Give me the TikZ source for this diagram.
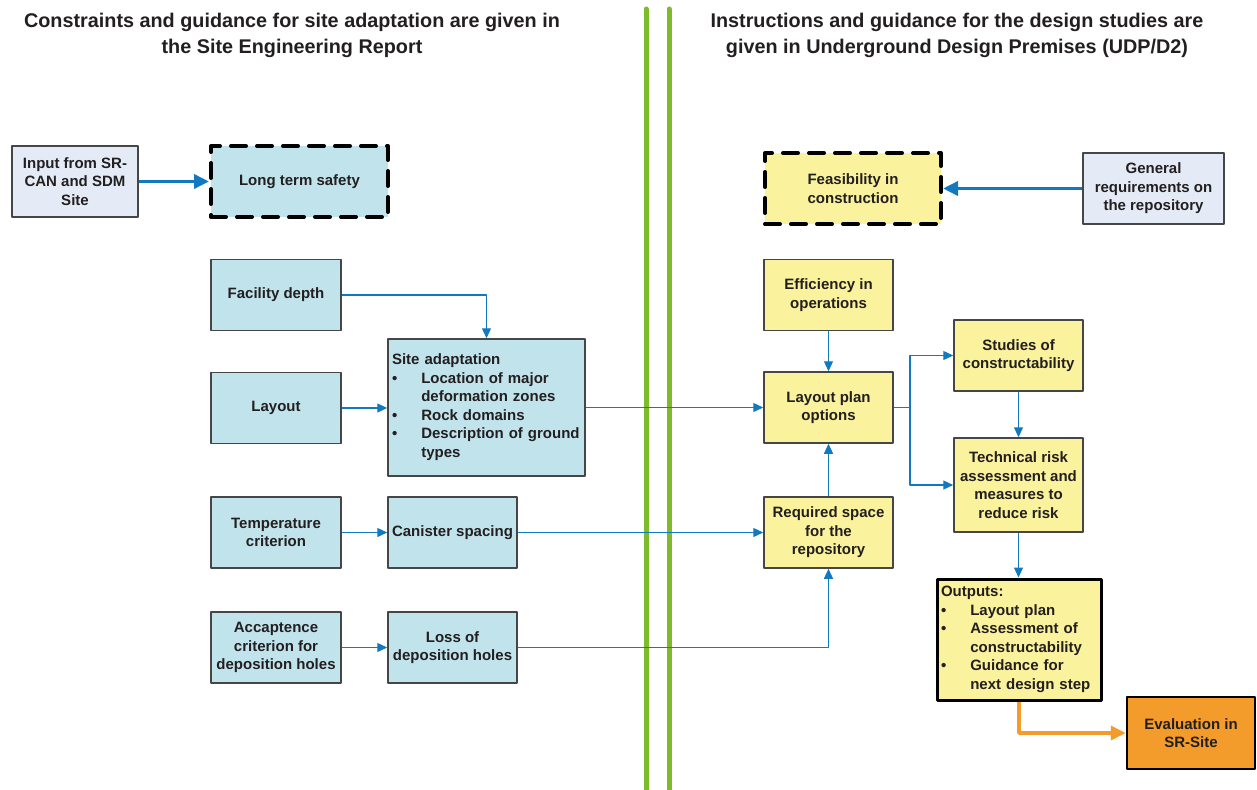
\documentclass[tikz,border=0pt]{standalone}
\usepackage{fontspec}
\setmainfont{Liberation Sans}
\usetikzlibrary{arrows.meta,positioning}

\definecolor{txtgray}{RGB}{35,31,32}
\definecolor{boxblue}{RGB}{193,228,236}
\definecolor{boxlav}{RGB}{228,235,247}
\definecolor{boxyellow}{RGB}{250,242,156}
\definecolor{boxorange}{RGB}{243,155,43}
\definecolor{arrowblue}{RGB}{18,121,193}
\definecolor{linegreen}{RGB}{125,187,42}
\definecolor{edgegray}{RGB}{70,70,70}

\begin{document}
\begin{tikzpicture}[x=1pt, y=-1pt, line join=round,
  every node/.style={text=txtgray, font=\fontsize{15}{18.5}\selectfont\bfseries, align=center, inner sep=4pt},
  plainbox/.style={draw=edgegray, line width=1.5pt, minimum width=130pt, minimum height=71pt},
  bluebox/.style={plainbox, fill=boxblue},
  yellowbox/.style={plainbox, fill=boxyellow},
  lavbox/.style={plainbox, fill=boxlav},
  dashbox/.style={draw=black, line width=4pt, dash pattern=on 15pt off 11pt, line cap=round, minimum height=71pt},
  thinarrow/.style={draw=arrowblue, line width=1.2pt, -{Triangle[length=10pt,width=9pt]}},
  thickarrow/.style={draw=arrowblue, line width=3.5pt, -{Triangle[length=15pt,width=14pt]}},
  orangearrow/.style={draw=boxorange, line width=3.5pt, -{Triangle[length=15pt,width=14pt]}},
  title/.style={font=\fontsize{19.8}{26}\selectfont\bfseries}]

\useasboundingbox (0,0) rectangle (1257,789);

% headings
\node[title] (lefttitle) at (292,35) {Constraints and guidance for site adaptation are given in\\the Site Engineering Report};
\node[title] (righttitle) at (957,35) {Instructions and guidance for the design studies are\\given in Underground Design Premises (UDP/D2)};

% dividing lines
\draw[linegreen, line width=5pt, line cap=round] (646,9) -- (646,792);
\draw[linegreen, line width=5pt, line cap=round] (669,9) -- (669,792);

% left side
\node[lavbox, minimum width=126pt] (input) at (75,181.5) {Input from SR-\\CAN and SDM\\Site};
\node[dashbox, fill=boxblue, minimum width=177pt] (lts) at (299.5,181.5) {Long term safety};

\node[bluebox] (depth) at (276,295) {Facility depth};
\node[bluebox] (layout) at (276,408) {Layout};
\node[bluebox, align=left, text width=189pt, minimum height=137pt] (siteadapt) at (486.5,407.5)
  {\begin{tabular}{@{}l@{\hspace{24pt}}l@{}}
    \multicolumn{2}{@{}l@{}}{Site adaptation}\\
    \textbullet & Location of major\\
     & deformation zones\\
    \textbullet & Rock domains\\
    \textbullet & Description of ground\\
     & types
  \end{tabular}};
\node[bluebox] (temp) at (276,532.5) {Temperature\\criterion};
\node[bluebox, minimum width=129pt] (canister) at (452.5,532.5) {Canister spacing};
\node[bluebox] (accept) at (276,647.5) {Accaptence\\criterion for\\deposition holes};
\node[bluebox, minimum width=129pt] (loss) at (452.5,647.5) {Loss of\\deposition holes};

% right side
\node[dashbox, fill=boxyellow, minimum width=176pt] (feas) at (853,188.5) {Feasibility in\\construction};
\node[lavbox, minimum width=141pt] (general) at (1153.5,188.5) {General\\requirements on\\the repository};

\node[yellowbox, minimum width=129pt] (efficiency) at (828.5,295) {Efficiency in\\operations};
\node[yellowbox, minimum width=129pt] (options) at (828.5,407.5) {Layout plan\\options};
\node[yellowbox, minimum width=129pt] (space) at (828.5,532.5) {Required space\\for the\\repository};
\node[yellowbox, minimum width=129pt] (studies) at (1018.5,355.5) {Studies of\\constructability};
\node[yellowbox, minimum width=129pt, minimum height=94pt] (risk) at (1018.5,485) {Technical risk\\assessment and\\measures to\\reduce risk};
\node[yellowbox, draw=black, line width=3pt, align=left, text width=156pt, minimum height=121pt] (outputs) at (1019,639.5)
  {\begin{tabular}{@{}l@{\hspace{24pt}}l@{}}
    \multicolumn{2}{@{}l@{}}{Outputs:}\\
    \textbullet & Layout plan\\
    \textbullet & Assessment of\\
     & constructability\\
    \textbullet & Guidance for\\
     & next design step
  \end{tabular}};
\node[plainbox, fill=boxorange, draw=black, line width=2.5pt, minimum width=128pt, minimum height=72pt] (eval) at (1191,733) {Evaluation in\\SR-Site};

% connectors
\draw[thickarrow] (input) -- (lts);
\draw[thickarrow] (general) -- (feas);

\draw[thinarrow] (depth.east) -| (siteadapt.north);
\draw[thinarrow] (layout.east) -- (layout.east -| siteadapt.west);
\draw[thinarrow] (siteadapt) -- (options);
\draw[thinarrow] (temp) -- (canister);
\draw[thinarrow] (canister) -- (space);
\draw[thinarrow] (accept) -- (loss);
\draw[thinarrow] (loss.east) -| (space.south);
\draw[thinarrow] (efficiency) -- (options);
\draw[thinarrow] (space) -- (options);

\coordinate (split) at (910,407.5);
\draw[draw=arrowblue, line width=1.2pt] (options.east) -- (split);
\draw[thinarrow] (split) |- (studies.west);
\draw[thinarrow] (split) |- (risk.west);
\draw[thinarrow] (studies) -- (risk);
\draw[thinarrow] (risk.south) -- (risk.south |- outputs.north);

\draw[orangearrow] (outputs.south) |- (eval.west);

\end{tikzpicture}
\end{document}
